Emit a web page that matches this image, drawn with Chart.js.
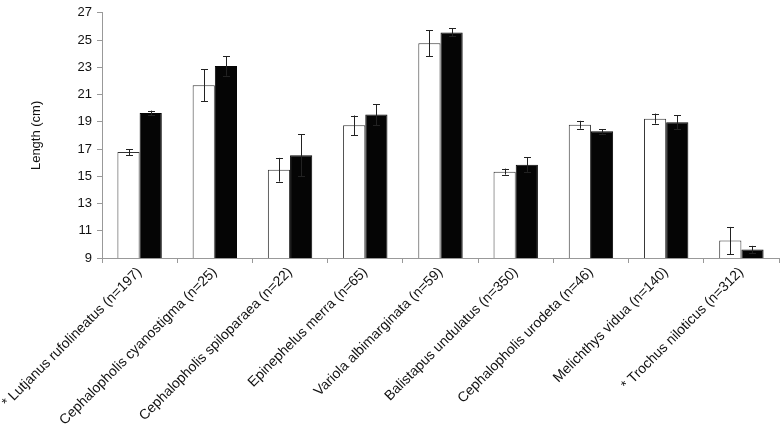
<!DOCTYPE html>
<html>
<head>
<meta charset="utf-8">
<script src="https://cdn.jsdelivr.net/npm/chart.js@4"></script>
<style>
html,body{margin:0;padding:0;background:#fff;}
#wrap{width:782px;height:424px;position:relative;}
</style>
</head>
<body>
<div id="wrap"><canvas id="c" width="782" height="424"></canvas></div>
<script>
const categories = [
  "* Lutjanus rufolineatus (n=197)",
  "Cephalopholis cyanostigma (n=25)",
  "Cephalopholis spiloparaea (n=22)",
  "Epinephelus merra (n=65)",
  "Variola albimarginata (n=59)",
  "Balistapus undulatus (n=350)",
  "Cephalopholis urodeta (n=46)",
  "Melichthys vidua (n=140)",
  "* Trochus niloticus (n=312)"
];
const whiteValues = [16.78, 21.68, 15.48, 18.74, 24.76, 15.34, 18.78, 19.23, 10.28];
const whiteErrors = [0.22, 1.16, 0.87, 0.72, 0.96, 0.22, 0.29, 0.37, 1.0];
const blackValues = [19.65, 23.1, 16.54, 19.53, 25.56, 15.85, 18.3, 18.97, 9.63];
const blackErrors = [0.17, 0.72, 1.54, 0.77, 0.29, 0.53, 0.17, 0.5, 0.26];
const yTicks = [9, 11, 13, 15, 17, 19, 21, 23, 25, 27];

const errorBarPlugin = {
  id: 'errorBars',
  afterDatasetsDraw(chart) {
    const ctx = chart.ctx;
    const y = chart.scales.y;
    chart.data.datasets.forEach((ds, di) => {
      const meta = chart.getDatasetMeta(di);
      meta.data.forEach((el, i) => {
        const v = ds.data[i], e = ds.errors[i];
        const yTop = y.getPixelForValue(v + e);
        const yBot = y.getPixelForValue(v - e);
        const x = Math.round(el.x) + 0.5;
        ctx.save();
        ctx.strokeStyle = '#222';
        ctx.lineWidth = 1;
        ctx.beginPath();
        ctx.moveTo(x, yTop); ctx.lineTo(x, yBot);
        ctx.moveTo(x - 3.5, Math.round(yTop) + 0.5); ctx.lineTo(x + 3.5, Math.round(yTop) + 0.5);
        ctx.moveTo(x - 3.5, Math.round(yBot) + 0.5); ctx.lineTo(x + 3.5, Math.round(yBot) + 0.5);
        ctx.stroke();
        ctx.restore();
      });
    });
  }
};

new Chart(document.getElementById('c'), {
  type: 'bar',
  data: {
    labels: categories,
    datasets: [
      { data: whiteValues, errors: whiteErrors, backgroundColor: '#ffffff', borderColor: '#333333', borderWidth: 1, categoryPercentage: 0.59, barPercentage: 1.0 },
      { data: blackValues, errors: blackErrors, backgroundColor: '#050505', borderColor: '#050505', borderWidth: 1, categoryPercentage: 0.59, barPercentage: 1.0 }
    ]
  },
  options: {
    responsive: false,
    animation: false,
    layout: { padding: { top: 9, right: 3, left: 0, bottom: 0 } },
    plugins: { legend: { display: false }, tooltip: { enabled: false } },
    scales: {
      x: {
        grid: { drawOnChartArea: false, drawTicks: true, tickLength: 5, color: '#999', offset: true },
        border: { color: '#999' },
        ticks: { color: '#111', font: { family: 'Liberation Sans', size: 14 }, minRotation: 45, maxRotation: 45, autoSkip: false, padding: 1 },
        afterFit(scale) { scale.height = 166; scale.paddingLeft = 0; scale.paddingRight = 0; }
      },
      y: {
        min: 9, max: 27,
        afterBuildTicks(scale) { scale.ticks = yTicks.map(v => ({ value: v })); },
        grid: { drawOnChartArea: false, drawTicks: true, tickLength: 5, color: '#999' },
        border: { color: '#999' },
        ticks: { color: '#111', font: { family: 'Liberation Sans', size: 13 }, padding: 5 },
        title: { display: true, text: 'Length (cm)', color: '#111', font: { family: 'Liberation Sans', size: 13 }, padding: { top: 29, bottom: 0 } },
        afterFit(scale) { scale.width = 102; }
      }
    }
  },
  plugins: [errorBarPlugin]
});
</script>
</body>
</html>
